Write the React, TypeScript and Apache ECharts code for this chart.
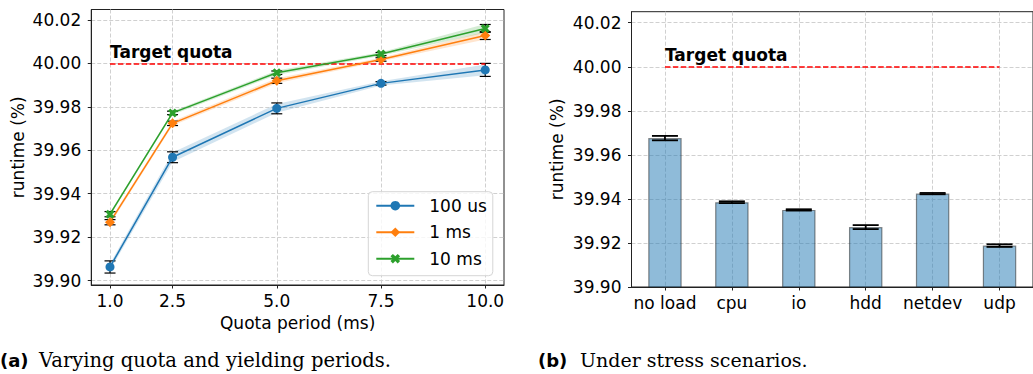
import React, { useEffect, useRef } from 'react';
import * as echarts from 'echarts';

// ---------- data ----------
const quotaPeriods = [1.0, 2.5, 5.0, 7.5, 10.0];
const xTicks = [1.0, 2.5, 5.0, 7.5, 10.0];
const yTicks = [39.9, 39.92, 39.94, 39.96, 39.98, 40.0, 40.02];
const TARGET = 40.0;

const seriesNames = ['100 us', '1 ms', '10 ms'];
const us100 = [39.9063, 39.9568, 39.9793, 39.9908, 39.997];
const ms1 = [39.9269, 39.9724, 39.992, 40.0018, 40.0128];
const ms10 = [39.9306, 39.9772, 39.9957, 40.0043, 40.0161];
const us100Err = [0.0028, 0.0025, 0.0025, 0.0008, 0.003];
const ms1Err = [0.0012, 0.001, 0.0012, 0.0008, 0.0018];
const ms10Err = [0.0012, 0.0008, 0.0008, 0.0007, 0.0018];
const us100Band = [0.0015, 0.0022, 0.002, 0.001, 0.0025];
const ms1Band = [0.001, 0.001, 0.0012, 0.0008, 0.0018];
const ms10Band = [0.0008, 0.0008, 0.001, 0.0008, 0.002];

const stressCats = ['no load', 'cpu', 'io', 'hdd', 'netdev', 'udp'];
const stressMeans = [39.9676, 39.9385, 39.935, 39.9272, 39.9424, 39.9188];
const stressErrs = [0.001, 0.0004, 0.0003, 0.0009, 0.0003, 0.0006];

// ---------- styles ----------
const BLUE = '#1f77b4';
const ORANGE = '#ff7f0e';
const GREEN = '#2ca02c';
const FONT = 'DejaVu Sans';
const AX = '#222222';
const GRIDC = '#d0d0d0';
const X_MARK = 'path://M0,1L1,0L2,1L3,0L4,1L3,2L4,3L3,4L2,3L1,4L0,3L1,2Z';

const lineSets = [
  { name: seriesNames[0], ys: us100, err: us100Err, band: us100Band, color: BLUE, symbol: 'circle', size: 9 },
  { name: seriesNames[1], ys: ms1, err: ms1Err, band: ms1Band, color: ORANGE, symbol: 'diamond', size: 10 },
  { name: seriesNames[2], ys: ms10, err: ms10Err, band: ms10Band, color: GREEN, symbol: X_MARK, size: 9 },
];

function errRender(capHalf: number, lw: number) {
  return (params: any, api: any) => {
    const lo = api.coord([api.value(0), api.value(1)]);
    const hi = api.coord([api.value(0), api.value(2)]);
    const st = { stroke: '#000', lineWidth: lw };
    return {
      type: 'group',
      children: [
        { type: 'line', shape: { x1: lo[0], y1: lo[1], x2: hi[0], y2: hi[1] }, style: st },
        { type: 'line', shape: { x1: lo[0] - capHalf, y1: lo[1], x2: lo[0] + capHalf, y2: lo[1] }, style: st },
        { type: 'line', shape: { x1: hi[0] - capHalf, y1: hi[1], x2: hi[0] + capHalf, y2: hi[1] }, style: st },
      ],
    };
  };
}

// one data item holds the whole band: [x0, lo0, hi0, x1, lo1, hi1, ...]
function bandRender(color: string, n: number) {
  return (params: any, api: any) => {
    const lower: number[][] = [];
    const upper: number[][] = [];
    for (let i = 0; i < n; i++) {
      const x = api.value(i * 3);
      lower.push(api.coord([x, api.value(i * 3 + 1)]));
      upper.push(api.coord([x, api.value(i * 3 + 2)]));
    }
    return {
      type: 'polygon',
      shape: { points: lower.concat(upper.reverse()) },
      style: { fill: color, opacity: 0.2 },
    };
  };
}

const labelStyle = { fontSize: 17, color: '#000', fontFamily: FONT };
const splitStyle = { show: true, lineStyle: { color: GRIDC, width: 1, type: [4, 2] as any } };

function buildOption(): any {
  const series: any[] = [];
  // confidence bands
  lineSets.forEach((s) => {
    const item: number[] = [];
    quotaPeriods.forEach((x, i) => {
      item.push(x, s.ys[i] - s.band[i], s.ys[i] + s.band[i]);
    });
    series.push({
      type: 'custom', name: s.name + ' band', xAxisIndex: 0, yAxisIndex: 0,
      data: [item], renderItem: bandRender(s.color, quotaPeriods.length),
      silent: true, z: 1,
    });
  });
  // error bars
  lineSets.forEach((s) => {
    series.push({
      type: 'custom', name: s.name + ' err', xAxisIndex: 0, yAxisIndex: 0,
      data: quotaPeriods.map((x, i) => [x, s.ys[i] - s.err[i], s.ys[i] + s.err[i]]),
      encode: { x: 0, y: [1, 2] },
      renderItem: errRender(5.5, 1.2), silent: true, z: 3,
    });
  });
  // main lines
  lineSets.forEach((s) => {
    series.push({
      type: 'line', name: s.name, xAxisIndex: 0, yAxisIndex: 0,
      data: quotaPeriods.map((x, i) => [x, s.ys[i]]),
      symbol: s.symbol, symbolSize: s.size,
      lineStyle: { color: s.color, width: 1.5 }, itemStyle: { color: s.color },
      z: 5,
    });
  });
  // target quota (left)
  series.push({
    type: 'line', name: 'target a', xAxisIndex: 0, yAxisIndex: 0, data: [], z: 4,
    markLine: {
      silent: true, symbol: ['none', 'none'],
      lineStyle: { color: '#ff0000', width: 1.5, type: [5.5, 2.4] },
      label: {
        show: true, position: 'insideStartTop', formatter: 'Target quota', distance: [0, 3],
        fontSize: 17, fontWeight: 'bold', color: '#000', fontFamily: FONT,
      },
      data: [[{ coord: [quotaPeriods[0], TARGET] }, { coord: [quotaPeriods[quotaPeriods.length - 1], TARGET] }]],
    },
  });
  // bars (right)
  series.push({
    type: 'bar', name: 'stress', xAxisIndex: 1, yAxisIndex: 1,
    data: stressMeans, barWidth: '50%',
    itemStyle: { color: 'rgba(31,119,180,0.5)', borderColor: 'rgba(30,30,30,0.5)', borderWidth: 1.2 },
    z: 2,
  });
  series.push({
    type: 'custom', name: 'stress err', xAxisIndex: 1, yAxisIndex: 1,
    data: stressCats.map((c, i) => [i, stressMeans[i] - stressErrs[i], stressMeans[i] + stressErrs[i]]),
    encode: { x: 0, y: [1, 2] },
    renderItem: errRender(13, 1.8), silent: true, z: 3,
  });
  series.push({
    type: 'line', name: 'target b', xAxisIndex: 1, yAxisIndex: 1, data: [], z: 4,
    markLine: {
      silent: true, symbol: ['none', 'none'],
      lineStyle: { color: '#ff0000', width: 1.5, type: [5.5, 2.4] },
      label: {
        show: true, position: 'insideStartTop', formatter: 'Target quota', distance: [0, 3],
        fontSize: 17, fontWeight: 'bold', color: '#000', fontFamily: FONT,
      },
      data: [[{ coord: [stressCats[0], TARGET] }, { coord: [stressCats[stressCats.length - 1], TARGET] }]],
    },
  });

  return {
    animation: false,
    backgroundColor: '#ffffff',
    textStyle: { fontFamily: FONT },
    grid: [
      { left: 91.25, top: 9.5, width: 412.75, height: 275.5, show: true, borderColor: AX, borderWidth: 1, backgroundColor: 'transparent' },
      { left: 631.5, top: 11.7, width: 409.3, height: 275.3, show: true, borderColor: AX, borderWidth: 1, backgroundColor: 'transparent' },
    ],
    xAxis: [
      {
        type: 'value', gridIndex: 0, min: 0.55, max: 10.45,
        axisLine: { show: true, onZero: false, lineStyle: { color: AX, width: 1 } },
        axisTick: { show: true, customValues: xTicks, length: 3.5, lineStyle: { color: AX } },
        axisLabel: { ...labelStyle, customValues: xTicks, formatter: (v: number) => v.toFixed(1), margin: 7 },
        splitLine: splitStyle,
        name: 'Quota period (ms)', nameLocation: 'middle', nameGap: 29, nameTextStyle: labelStyle,
      },
      {
        type: 'category', gridIndex: 1, data: stressCats,
        axisLine: { show: true, onZero: false, lineStyle: { color: AX, width: 1 } },
        axisTick: { show: true, alignWithLabel: true, length: 3.5, lineStyle: { color: AX } },
        axisLabel: { ...labelStyle, margin: 7, interval: 0 },
        splitLine: { ...splitStyle, alignWithLabel: true },
      },
    ],
    yAxis: [
      {
        type: 'value', gridIndex: 0, min: 39.898, max: 40.0248,
        axisLine: { show: true, lineStyle: { color: AX, width: 1 } },
        axisTick: { show: true, customValues: yTicks, length: 3.5, lineStyle: { color: AX } },
        axisLabel: { ...labelStyle, customValues: yTicks, formatter: (v: number) => v.toFixed(2), margin: 10 },
        splitLine: splitStyle,
        name: 'runtime (%)', nameLocation: 'middle', nameGap: 65, nameTextStyle: labelStyle,
      },
      {
        type: 'value', gridIndex: 1, min: 39.9, max: 40.025,
        axisLine: { show: true, lineStyle: { color: AX, width: 1 } },
        axisTick: { show: true, customValues: yTicks, length: 3.5, lineStyle: { color: AX } },
        axisLabel: { ...labelStyle, customValues: yTicks, formatter: (v: number) => v.toFixed(2), margin: 10 },
        splitLine: splitStyle,
        name: 'runtime (%)', nameLocation: 'middle', nameGap: 66, nameTextStyle: labelStyle,
      },
    ],
    legend: {
      data: seriesNames,
      orient: 'vertical', left: 368.3, top: 191.7,
      itemWidth: 38, itemHeight: 12, itemGap: 6.5,
      padding: [4, 6, 7, 7],
      textStyle: { ...labelStyle, lineHeight: 20, padding: [0, 0, 0, 10] },
      backgroundColor: 'rgba(255,255,255,0.8)', borderColor: '#d5d5d5', borderWidth: 1, borderRadius: 4,
      selectedMode: false,
    },
    graphic: [
      { type: 'text', style: { x: 0, y: 360.5, text: '(a)', font: `bold 18px "${FONT}"`, fill: '#000', verticalAlign: 'middle' } },
      { type: 'text', style: { x: 39, y: 360.3, text: 'Varying quota and yielding periods.', font: '19.5px "DejaVu Serif"', fill: '#000', verticalAlign: 'middle' } },
      { type: 'text', style: { x: 538, y: 360.5, text: '(b)', font: `bold 18px "${FONT}"`, fill: '#000', verticalAlign: 'middle' } },
      { type: 'text', style: { x: 580, y: 360.3, text: 'Under stress scenarios.', font: '19px "DejaVu Serif"', fill: '#000', verticalAlign: 'middle' } },
    ],
    series,
  };
}

export default function App() {
  const ref = useRef<HTMLDivElement>(null);
  useEffect(() => {
    if (!ref.current) return;
    const chart = echarts.init(ref.current, null, { renderer: 'svg' });
    chart.setOption(buildOption());
    return () => chart.dispose();
  }, []);
  return (
    <div
      ref={ref}
      style={{ position: 'absolute', left: 0, top: 0, width: 1033, height: 374, background: '#fff' }}
    />
  );
}
